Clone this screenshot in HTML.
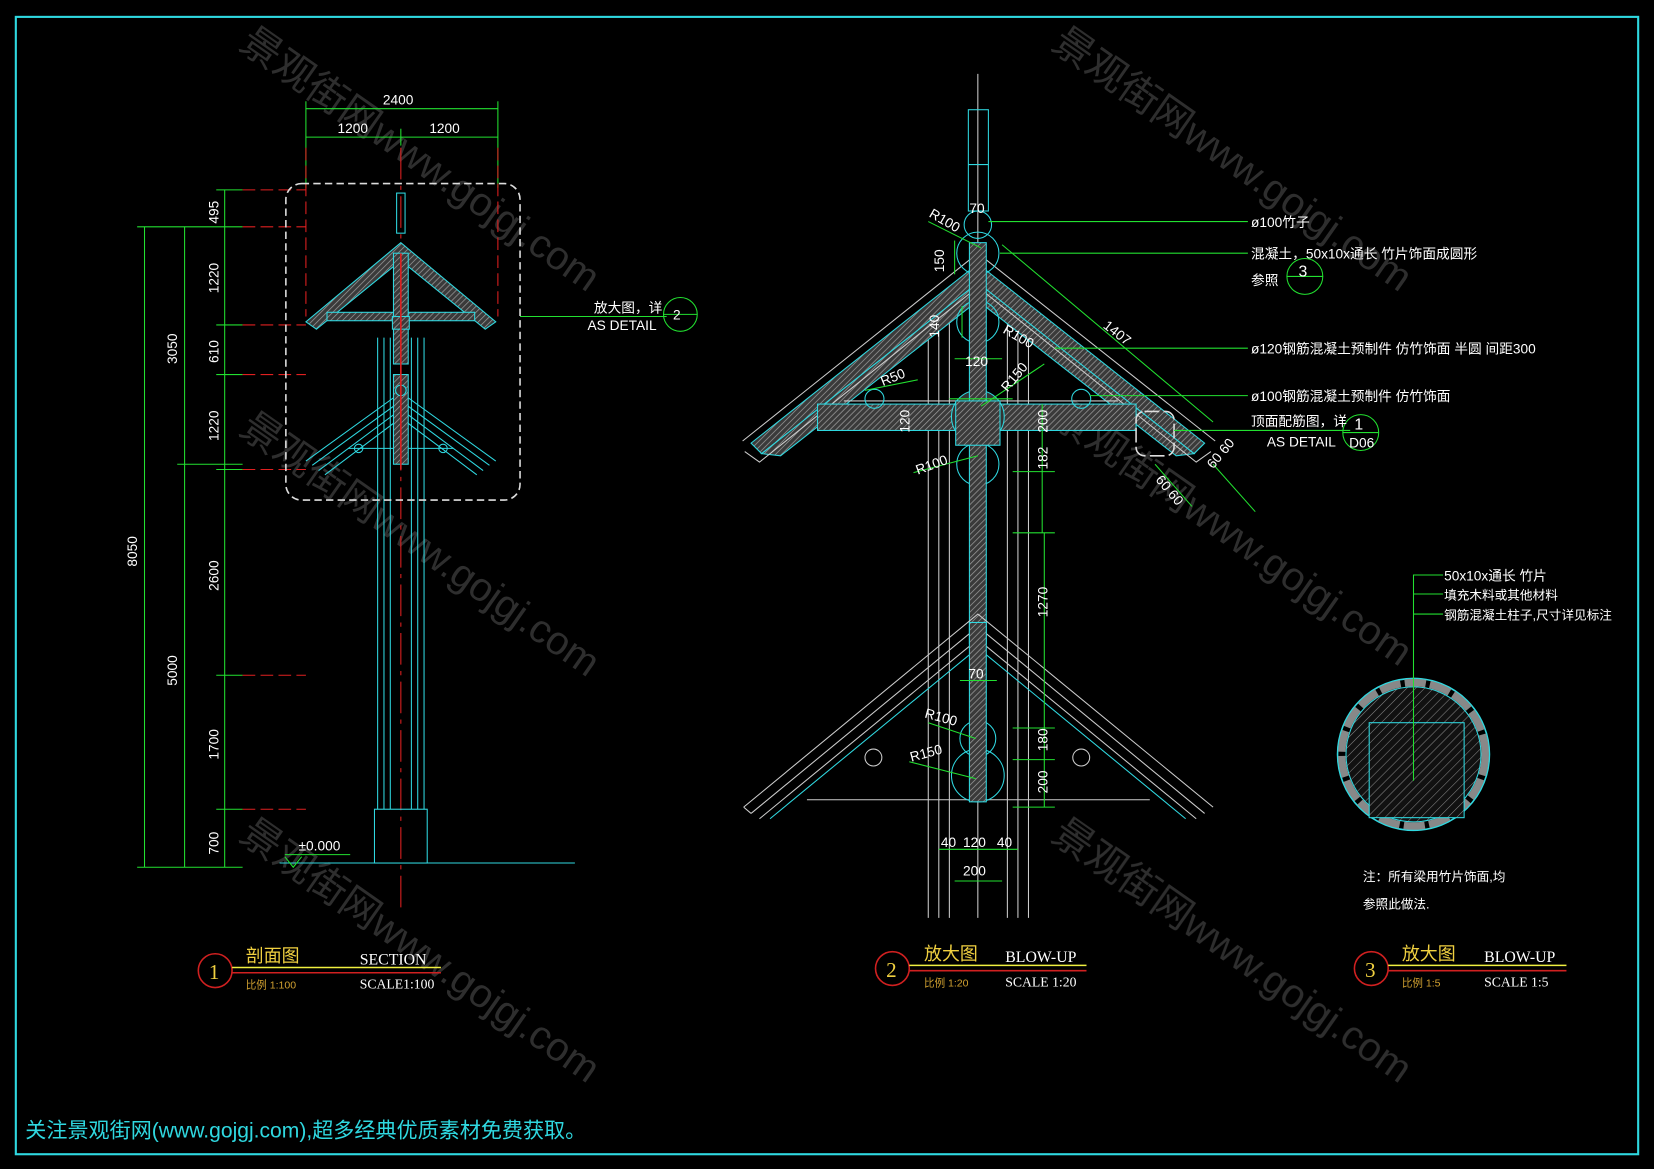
<!DOCTYPE html>
<html><head><meta charset="utf-8"><style>
html,body{margin:0;padding:0;background:#000;}
svg{display:block}
text{font-family:"Liberation Sans","Noto Sans CJK SC",sans-serif;}
.w{fill:#fff;font-size:13px}
.s{font-family:"Liberation Serif","Noto Serif CJK SC",serif}
</style></head><body>
<svg width="1654" height="1169" viewBox="0 0 1568 1108" preserveAspectRatio="none" xmlns="http://www.w3.org/2000/svg">
<defs>
<pattern id="h" width="4" height="4" patternUnits="userSpaceOnUse" patternTransform="rotate(45)">
<rect width="4" height="4" fill="#3a3a3a"/><line x1="0" y1="0" x2="0" y2="4" stroke="#9a9a9a" stroke-width="1.4"/></pattern>
<pattern id="h2" width="6" height="6" patternUnits="userSpaceOnUse" patternTransform="rotate(45)">
<rect width="6" height="6" fill="#111"/><line x1="0" y1="0" x2="0" y2="6" stroke="#888" stroke-width="1"/></pattern>
</defs>
<rect width="1568" height="1108" fill="#000"/>
<rect x="15" y="16" width="1538" height="1078" fill="none" stroke="#2fd8e0" stroke-width="2"/>

<!-- watermarks -->
<g fill="#3a3a3a" font-size="38" font-family="Liberation Sans,Noto Sans CJK SC,sans-serif" opacity="0.8">
<text transform="translate(225,45) rotate(35)">景观街网www.gojgj.com</text>
<text transform="translate(995,45) rotate(35)">景观街网www.gojgj.com</text>
<text transform="translate(225,410) rotate(35)">景观街网www.gojgj.com</text>
<text transform="translate(995,400) rotate(35)">景观街网www.gojgj.com</text>
<text transform="translate(225,795) rotate(35)">景观街网www.gojgj.com</text>
<text transform="translate(995,795) rotate(35)">景观街网www.gojgj.com</text>
</g>

<!-- ===== LEFT SECTION ===== -->
<g stroke="#22e030" stroke-width="1" fill="none">
<line x1="290" y1="103" x2="472" y2="103"/>
<line x1="290" y1="130" x2="472" y2="130"/>
<line x1="290" y1="96" x2="290" y2="178"/><line x1="472" y1="96" x2="472" y2="178"/><line x1="380" y1="122" x2="380" y2="138"/>
<line x1="137" y1="215" x2="137" y2="822"/>
<line x1="175" y1="215" x2="175" y2="822"/>
<line x1="213" y1="180" x2="213" y2="822"/>
<line x1="130" y1="215" x2="230" y2="215"/>
<line x1="205" y1="180" x2="230" y2="180"/>
<line x1="168" y1="440" x2="230" y2="440"/>
<line x1="205" y1="308" x2="230" y2="308"/>
<line x1="205" y1="355" x2="230" y2="355"/>
<line x1="205" y1="445" x2="230" y2="445"/>
<line x1="205" y1="640" x2="230" y2="640"/>
<line x1="205" y1="767" x2="230" y2="767"/>
<line x1="130" y1="822" x2="230" y2="822"/>
<line x1="493" y1="300" x2="632" y2="300"/>
<circle cx="645" cy="298" r="16"/>
<line x1="629" y1="298" x2="661" y2="298"/>
</g>
<g stroke="#e02020" stroke-width="1" stroke-dasharray="12,5" fill="none">
<line x1="230" y1="180" x2="290" y2="180"/><line x1="230" y1="215" x2="290" y2="215"/>
<line x1="230" y1="308" x2="290" y2="308"/><line x1="230" y1="355" x2="290" y2="355"/>
<line x1="230" y1="445" x2="290" y2="445"/><line x1="230" y1="640" x2="290" y2="640"/>
<line x1="230" y1="767" x2="290" y2="767"/>
<line x1="290" y1="140" x2="290" y2="300"/><line x1="472" y1="140" x2="472" y2="300"/>
<line x1="380" y1="140" x2="380" y2="860" stroke-dasharray="30,6,4,6"/>
</g>
<g class="w" fill="#fff" font-size="13">
<text x="363" y="99">2400</text><text x="320" y="126">1200</text><text x="407" y="126">1200</text>
<text transform="translate(130,537) rotate(-90)">8050</text>
<text transform="translate(168,345) rotate(-90)">3050</text>
<text transform="translate(168,650) rotate(-90)">5000</text>
<text transform="translate(207,212) rotate(-90)">495</text>
<text transform="translate(207,278) rotate(-90)">1220</text>
<text transform="translate(207,344) rotate(-90)">610</text>
<text transform="translate(207,418) rotate(-90)">1220</text>
<text transform="translate(207,560) rotate(-90)">2600</text>
<text transform="translate(207,720) rotate(-90)">1700</text>
<text transform="translate(207,810) rotate(-90)">700</text>
<text x="283" y="806">±0.000</text>
<text x="563" y="296">放大图，详</text><text x="557" y="313">AS DETAIL</text>
<text x="638" y="303">2</text>
</g>
<!-- column -->
<g stroke="#2fd8e0" stroke-width="1" fill="none">
<line x1="358" y1="320" x2="358" y2="767"/><line x1="364" y1="320" x2="364" y2="767"/>
<line x1="370" y1="320" x2="370" y2="767"/><line x1="390" y1="320" x2="390" y2="767"/>
<line x1="396" y1="320" x2="396" y2="767"/><line x1="402" y1="320" x2="402" y2="767"/>
<rect x="355" y="767" width="50" height="51"/>
<rect x="376" y="183" width="8" height="38"/>
<line x1="265" y1="818" x2="545" y2="818" stroke="#2fd8e0"/>
<polyline points="270,812 278,822 286,812" stroke="#22e030"/>
<line x1="270" y1="810" x2="332" y2="810" stroke="#22e030"/>
</g>
<!-- upper roof -->
<polygon points="380,230 290,305 300,312 380,247 460,312 470,305" fill="url(#h)" stroke="#2fd8e0"/>
<rect x="310" y="296" width="140" height="8" fill="url(#h)" stroke="#2fd8e0"/>
<rect x="373" y="240" width="14" height="105" fill="url(#h)" stroke="#2fd8e0"/>
<rect x="372" y="300" width="16" height="12" fill="url(#h)" stroke="#2fd8e0"/>
<!-- lower roof -->
<g stroke="#2fd8e0" fill="none">
<polyline points="290,437 380,372 470,437"/><polyline points="296,441 380,380 464,441"/>
<polyline points="302,446 380,388 458,446"/><polyline points="308,450 380,396 452,450"/>
<line x1="330" y1="425" x2="430" y2="425"/>
<circle cx="340" cy="425" r="4"/><circle cx="420" cy="425" r="4"/>
</g>
<rect x="373" y="355" width="14" height="85" fill="url(#h)" stroke="#2fd8e0"/>
<circle cx="380" cy="370" r="5" fill="#333" stroke="#2fd8e0"/>
<line x1="380" y1="240" x2="380" y2="445" stroke="#e02020" stroke-width="1.5"/>
<rect x="271" y="174" width="222" height="300" rx="15" fill="none" stroke="#ddd" stroke-width="1.5" stroke-dasharray="7,4"/>

<!-- title 1 -->
<circle cx="204" cy="920" r="16" fill="none" stroke="#d02020" stroke-width="1.5"/>
<text x="198" y="928" fill="#f0d040" font-size="20" class="s">1</text>
<line x1="220" y1="917" x2="418" y2="917" stroke="#f0f040" stroke-width="1.5"/>
<line x1="220" y1="922" x2="418" y2="922" stroke="#d02020" stroke-width="1.5"/>
<text x="233" y="912" fill="#f0d040" font-size="17">剖面图</text>
<text x="341" y="914" fill="#fff" font-size="15" class="s">SECTION</text>
<text x="233" y="937" fill="#d0a030" font-size="10">比例 1:100</text>
<text x="341" y="937" fill="#fff" font-size="13" class="s">SCALE1:100</text>

<!-- ===== MIDDLE BLOW-UP ===== -->
<g stroke="#ccc" stroke-width="1" fill="none">
<line x1="880" y1="300" x2="880" y2="870"/><line x1="890" y1="300" x2="890" y2="870"/><line x1="900" y1="300" x2="900" y2="870"/>
<line x1="955" y1="300" x2="955" y2="870"/><line x1="965" y1="300" x2="965" y2="870"/><line x1="975" y1="300" x2="975" y2="870"/>
<line x1="927" y1="70" x2="927" y2="870"/>
</g>
<rect x="918" y="104" width="19" height="96" fill="none" stroke="#2fd8e0"/>
<line x1="918" y1="156" x2="937" y2="156" stroke="#2fd8e0"/>
<!-- upper roof bands -->
<g stroke="#2fd8e0" fill="url(#h)">
<polygon points="927,250 712,420 722,430 927,268 1132,430 1142,420"/>
<polygon points="927,268 722,430 740,432 927,285 1115,432 1132,430"/>
</g>
<g stroke="#ccc" fill="none">
<polyline points="704,418 927,240 1152,418"/>
<polyline points="706,428 720,438 927,272"/>
<polyline points="1148,428 1134,438 927,272"/>
</g>
<rect x="775" y="383" width="302" height="25" fill="url(#h)" stroke="#2fd8e0"/>
<line x1="800" y1="380" x2="1060" y2="380" stroke="#ccc"/>
<circle cx="927" cy="213" r="13" fill="none" stroke="#2fd8e0"/>
<circle cx="927" cy="240" r="20" fill="none" stroke="#2fd8e0"/>
<circle cx="927" cy="305" r="20" fill="none" stroke="#2fd8e0"/>
<circle cx="927" cy="395" r="25" fill="#333" stroke="#2fd8e0"/>
<circle cx="927" cy="440" r="20" fill="none" stroke="#2fd8e0"/>
<circle cx="829" cy="378" r="9" fill="none" stroke="#2fd8e0"/>
<circle cx="1025" cy="378" r="9" fill="none" stroke="#2fd8e0"/>
<rect x="919" y="230" width="16" height="380" fill="url(#h)" stroke="#2fd8e0"/>
<rect x="906" y="380" width="42" height="42" fill="url(#h)" stroke="#2fd8e0"/>
<rect x="1077" y="390" width="36" height="42" rx="8" fill="none" stroke="#ddd" stroke-width="1.5" stroke-dasharray="14,4"/>
<!-- lower roof -->
<g stroke="#ccc" fill="none">
<polyline points="705,765 927,582 1150,765"/>
<polyline points="712,771 927,594 1142,771"/>
<polyline points="720,776 927,606 1134,776"/>
<polyline points="712,771 705,765"/>
<line x1="765" y1="758" x2="1090" y2="758"/>
</g>
<g stroke="#2fd8e0" fill="none">
<polyline points="730,776 927,614 1124,776"/>
</g>
<circle cx="828" cy="718" r="8" fill="none" stroke="#ccc"/>
<circle cx="1025" cy="718" r="8" fill="none" stroke="#ccc"/>
<circle cx="927" cy="700" r="17" fill="none" stroke="#2fd8e0"/>
<circle cx="927" cy="735" r="25" fill="none" stroke="#2fd8e0"/>
<rect x="919" y="590" width="16" height="170" fill="url(#h)" stroke="#2fd8e0"/>
<!-- middle dims/leaders -->
<g stroke="#22e030" fill="none">
<line x1="937" y1="210" x2="1183" y2="210"/>
<line x1="948" y1="240" x2="1183" y2="240"/>
<line x1="1000" y1="330" x2="1183" y2="330"/>
<line x1="1033" y1="375" x2="1183" y2="375"/>
<line x1="1113" y1="408" x2="1280" y2="408"/>
<line x1="950" y1="232" x2="1150" y2="400"/>
<line x1="880" y1="210" x2="930" y2="235"/>
<line x1="905" y1="228" x2="905" y2="260"/>
<line x1="912" y1="290" x2="912" y2="320"/>
<line x1="905" y1="340" x2="950" y2="340"/>
<line x1="900" y1="378" x2="960" y2="378"/>
<line x1="988" y1="383" x2="988" y2="505"/>
<line x1="960" y1="447" x2="1000" y2="447"/>
<line x1="960" y1="505" x2="1000" y2="505"/>
<line x1="990" y1="505" x2="990" y2="765"/>
<line x1="960" y1="690" x2="1000" y2="690"/>
<line x1="960" y1="720" x2="1000" y2="720"/>
<line x1="960" y1="765" x2="1000" y2="765"/>
<line x1="866" y1="448" x2="927" y2="432"/>
<line x1="910" y1="645" x2="945" y2="645"/>
<line x1="880" y1="685" x2="925" y2="700"/>
<line x1="862" y1="722" x2="925" y2="738"/>
<line x1="820" y1="370" x2="870" y2="360"/>
<line x1="930" y1="385" x2="990" y2="345"/>
<line x1="890" y1="805" x2="965" y2="805"/>
<line x1="905" y1="835" x2="950" y2="835"/>
<line x1="1095" y1="440" x2="1130" y2="480"/>
<line x1="1150" y1="440" x2="1190" y2="485"/>
<circle cx="1290" cy="410" r="17"/>
<line x1="1273" y1="410" x2="1307" y2="410"/>
<circle cx="1237" cy="262" r="17"/>
<line x1="1220" y1="262" x2="1254" y2="262"/>
</g>
<g fill="#fff" font-size="13">
<text x="919" y="202">70</text>
<text transform="translate(880,205) rotate(30)">R100</text>
<text transform="translate(895,258) rotate(-90)">150</text>
<text transform="translate(890,320) rotate(-90)">140</text>
<text transform="translate(950,315) rotate(30)">R100</text>
<text transform="translate(1045,310) rotate(38)">1407</text>
<text x="915" y="347">120</text>
<text transform="translate(837,366) rotate(-22)">R50</text>
<text transform="translate(955,372) rotate(-50)">R150</text>
<text transform="translate(862,410) rotate(-90)">120</text>
<text transform="translate(993,410) rotate(-90)">200</text>
<text transform="translate(993,445) rotate(-90)">182</text>
<text transform="translate(870,450) rotate(-20)">R100</text>
<text transform="translate(993,585) rotate(-90)">1270</text>
<text x="918" y="643">70</text>
<text transform="translate(876,680) rotate(15)">R100</text>
<text transform="translate(864,722) rotate(-15)">R150</text>
<text transform="translate(993,712) rotate(-90)">180</text>
<text transform="translate(993,752) rotate(-90)">200</text>
<text x="892" y="803">40</text><text x="913" y="803">120</text><text x="945" y="803">40</text>
<text x="913" y="830">200</text>
<text transform="translate(1095,455) rotate(50)">60 60</text>
<text transform="translate(1150,445) rotate(-50)">60 60</text>
<text x="1186" y="215">ø100竹子</text>
<text x="1186" y="245">混凝土，50x10x通长 竹片饰面成圆形</text>
<text x="1186" y="270">参照</text>
<text x="1231" y="262" font-size="15">3</text>
<text x="1186" y="335">ø120钢筋混凝土预制件 仿竹饰面 半圆 间距300</text>
<text x="1186" y="380">ø100钢筋混凝土预制件 仿竹饰面</text>
<text x="1186" y="404">顶面配筋图，详</text>
<text x="1201" y="423">AS DETAIL</text>
<text x="1284" y="407" font-size="15">1</text><text x="1279" y="424">D06</text>
</g>
<!-- title 2 -->
<circle cx="846" cy="918" r="16" fill="none" stroke="#d02020" stroke-width="1.5"/>
<text x="840" y="926" fill="#f0d040" font-size="20" class="s">2</text>
<line x1="862" y1="915" x2="1030" y2="915" stroke="#f0f040" stroke-width="1.5"/>
<line x1="862" y1="920" x2="1030" y2="920" stroke="#d02020" stroke-width="1.5"/>
<text x="876" y="910" fill="#f0d040" font-size="17">放大图</text>
<text x="953" y="912" fill="#fff" font-size="15" class="s">BLOW-UP</text>
<text x="876" y="935" fill="#d0a030" font-size="10">比例 1:20</text>
<text x="953" y="935" fill="#fff" font-size="13" class="s">SCALE 1:20</text>

<!-- ===== RIGHT DETAIL ===== -->
<circle cx="1340" cy="715" r="72" fill="none" stroke="#2fd8e0" stroke-width="1.5"/>
<circle cx="1340" cy="715" r="64" fill="url(#h2)" stroke="#2fd8e0"/>
<circle cx="1340" cy="715" r="68" fill="none" stroke="#888" stroke-width="7" stroke-dasharray="20,4"/>
<rect x="1298" y="685" width="90" height="90" fill="url(#h2)" stroke="#2fd8e0"/>
<g stroke="#22e030" fill="none">
<polyline points="1340,740 1340,545 1368,545"/>
<line x1="1340" y1="563" x2="1368" y2="563"/>
<line x1="1340" y1="582" x2="1368" y2="582"/>
</g>
<g fill="#fff" font-size="12">
<text x="1369" y="550" font-size="13">50x10x通长 竹片</text>
<text x="1369" y="568">填充木料或其他材料</text>
<text x="1369" y="587">钢筋混凝土柱子,尺寸详见标注</text>
<text x="1292" y="835">注：所有梁用竹片饰面,均</text>
<text x="1292" y="861">参照此做法.</text>
</g>
<!-- title 3 -->
<circle cx="1300" cy="918" r="16" fill="none" stroke="#d02020" stroke-width="1.5"/>
<text x="1294" y="926" fill="#f0d040" font-size="20" class="s">3</text>
<line x1="1316" y1="915" x2="1485" y2="915" stroke="#f0f040" stroke-width="1.5"/>
<line x1="1316" y1="920" x2="1485" y2="920" stroke="#d02020" stroke-width="1.5"/>
<text x="1329" y="910" fill="#f0d040" font-size="17">放大图</text>
<text x="1407" y="912" fill="#fff" font-size="15" class="s">BLOW-UP</text>
<text x="1329" y="935" fill="#d0a030" font-size="10">比例 1:5</text>
<text x="1407" y="935" fill="#fff" font-size="13" class="s">SCALE 1:5</text>

<text x="24" y="1078" fill="#2fd8e0" font-size="20" font-family="Liberation Mono,Noto Sans CJK SC,monospace">关注景观街网(www.gojgj.com),超多经典优质素材免费获取。</text>
</svg>
</body></html>
